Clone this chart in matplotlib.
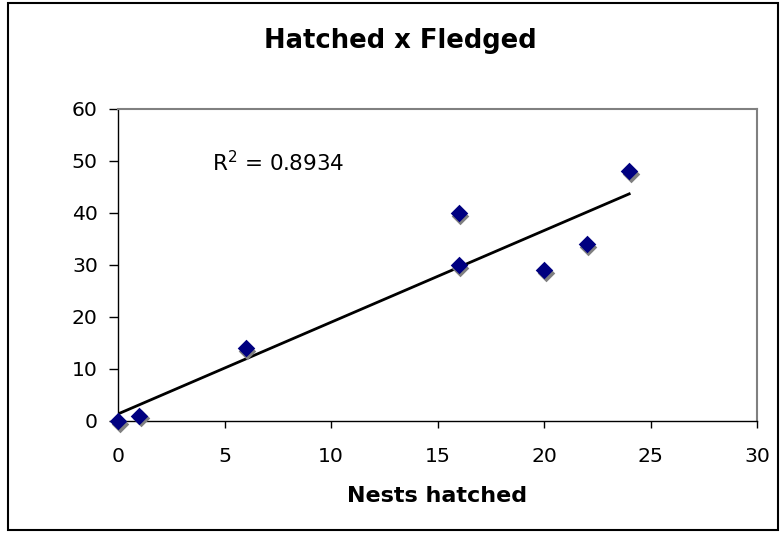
import numpy as np
import matplotlib
matplotlib.use("Agg")
from matplotlib import pyplot as plt
from matplotlib import transforms
from matplotlib.patches import Rectangle

# data
nestsHatched = [0, 1, 6, 16, 16, 20, 22, 24]
fledged = [0, 1, 14, 40, 30, 29, 34, 48]
xTicks = [0, 5, 10, 15, 20, 25, 30]
yTicks = [0, 10, 20, 30, 40, 50, 60]

plt.rcParams['font.family'] = ['DejaVu Sans']

fig = plt.figure(figsize=(7.84, 5.33), dpi=100)
ax = fig.add_axes([118/784, 1 - 421/533, (757 - 118)/784, (421 - 109)/533])

# linear trendline and R^2 from the points
slope, intercept = np.polyfit(nestsHatched, fledged, 1)
xs = np.array([min(nestsHatched), max(nestsHatched)])
ax.plot(xs, slope*xs + intercept, color='black', lw=2, zorder=3)
pred = slope*np.array(nestsHatched) + intercept
ybar = np.mean(fledged)
r2 = 1 - np.sum((np.array(fledged) - pred)**2) / np.sum((np.array(fledged) - ybar)**2)

# shadow then markers
shadow = transforms.offset_copy(ax.transData, fig=fig, x=1.5, y=-2.5, units='dots')
ax.scatter(nestsHatched, fledged, marker='D', s=80, color='#808080', transform=shadow,
           zorder=4, clip_on=False, linewidths=0)
ax.scatter(nestsHatched, fledged, marker='D', s=80, color='#000080', zorder=5,
           clip_on=False, linewidths=0)

ax.text(4.4, 48.1, 'R$^2$ = %.4f' % r2, fontsize=15.5, va='baseline', ha='left')

ax.set_xlim(0, 30)
ax.set_ylim(0, 60)
ax.set_xticks(xTicks)
ax.set_yticks(yTicks)
ax.tick_params(direction='out', width=1, labelsize=14.7)
ax.tick_params(axis='x', length=5.3, pad=13.5)
ax.tick_params(axis='y', length=6.5, pad=8)
for s in ['left', 'bottom']:
    ax.spines[s].set_color('black')
    ax.spines[s].set_linewidth(1)
for s in ['top', 'right']:
    ax.spines[s].set_color('#808080')
    ax.spines[s].set_linewidth(1.5)

fig.text(437.5/784, 1 - 502/533, 'Nests hatched', fontsize=16, fontweight='bold',
         ha='center', va='baseline')
fig.text(400/784, 1 - 47.5/533, 'Hatched x Fledged', fontsize=18.6, fontweight='bold',
         ha='center', va='baseline')

# outer chart border
fig.patches.append(Rectangle((8/784, 3/533), 770/784, 527/533, transform=fig.transFigure,
                             fill=False, edgecolor='black', lw=1.5))

fig.savefig('out.png', dpi=100)
